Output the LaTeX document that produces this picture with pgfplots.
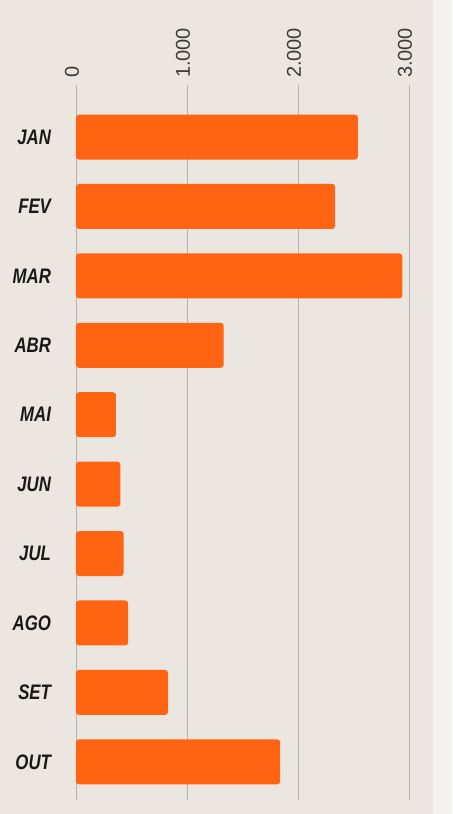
\documentclass[border=0pt]{standalone}
\usepackage{pgfplots}
\pgfplotsset{compat=1.18}
\usepackage{fontspec}
\setmainfont{Liberation Sans}
\newfontfamily\labfont[FakeStretch=0.8]{Liberation Sans}
\definecolor{bg}{HTML}{EBE6E0}
\definecolor{bgr}{HTML}{F4F2EE}
\definecolor{barc}{HTML}{FF6412}
\definecolor{gridc}{HTML}{B3B3B3}
\definecolor{tickc}{HTML}{3A3A3A}
\begin{document}
\begin{tikzpicture}
\useasboundingbox (0pt,0pt) rectangle (226pt,407pt);
\fill[bgr] (0pt,0pt) rectangle (226pt,407pt);
\fill[bg] (0pt,0pt) rectangle (216.5pt,407pt);
\begin{axis}[
  at={(38pt,7pt)}, anchor=south west,
  scale only axis, width=174.8pt, height=357.5pt,
  xmin=0, xmax=3150, ymin=-0.75, ymax=9.55,
  y dir=reverse,
  xbar, bar width=22.5pt,
  ytick={0,...,9},
  yticklabels={JAN,FEV,MAR,ABR,MAI,JUN,JUL,AGO,SET,OUT},
  xtick={0,1000,2000,3000},
  xticklabels={0,1.000,2.000,3.000},
  xticklabel pos=right,
  xticklabel style={rotate=90, anchor=west, font=\fontsize{10}{12}\selectfont, text=tickc, yshift=2pt},
  yticklabel style={font=\labfont\bfseries\itshape\fontsize{10.5}{12}\selectfont, text=black!90, xshift=-9pt},
  axis line style={draw=none},
  major tick length=0pt,
  xmajorgrids,
  grid style={draw=gridc, line width=0.45pt},
  clip=false,
  /pgf/number format/assume math mode=true,
]
\addplot[fill=barc, draw=none, rounded corners=1.5pt] coordinates {
 (2540,0) (2335,1) (2940,2) (1330,3) (360,4) (400,5) (430,6) (470,7) (830,8) (1840,9)
};
\end{axis}
\end{tikzpicture}
\end{document}
